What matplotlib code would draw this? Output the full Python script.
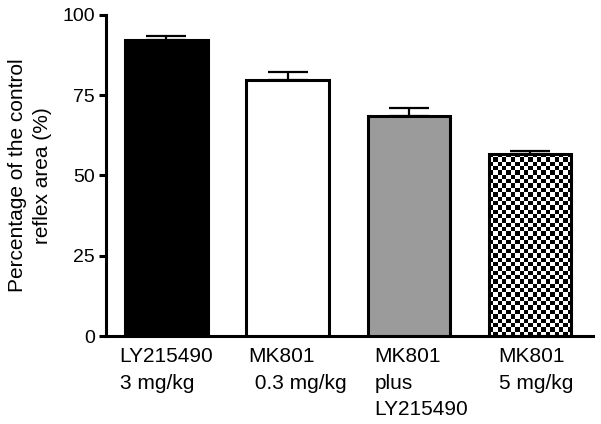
import matplotlib.pyplot as plt
import matplotlib.transforms as mtransforms
import numpy as np

plt.rcParams['font.family'] = ['Liberation Sans', 'DejaVu Sans']

groups = ["LY215490\n3 mg/kg", "MK801\n 0.3 mg/kg", "MK801\nplus\nLY215490", "MK801\n5 mg/kg"]
means = [92.2, 79.7, 68.5, 56.7]
sems = [1.3, 2.5, 2.5, 1.0]
fills = ["black", "white", "#9b9b9b", "white"]
yticks = [0, 25, 50, 75, 100]

fig = plt.figure(figsize=(6.01, 4.24), dpi=100)
ax = fig.add_axes([0.176, 0.2075, 0.811, 0.7575])

x = np.arange(len(groups))
width = 0.68
bars = ax.bar(x, means, width=width, color=fills, edgecolor="black",
              linewidth=2.2, zorder=3)
ax.errorbar(x, means, yerr=[np.zeros(len(sems)), sems], fmt="none",
            ecolor="black", elinewidth=1.6, capsize=14.5, capthick=1.6, zorder=2)

# checkerboard fill for the last bar
b = bars[3]
nx, ny = 19, 42
checker = (np.add.outer(np.arange(ny), np.arange(nx)) % 2).astype(float)
im = ax.imshow(checker, cmap="gray", interpolation="nearest", aspect="auto",
               extent=(b.get_x(), b.get_x() + b.get_width(), 0, b.get_height()),
               zorder=2.5)
im.set_clip_path(b)
b.set_facecolor("none")

ax.set_xlim(-0.5, 3.52)
ax.set_ylim(0, 100)
ax.set_yticks(yticks)
ax.set_xticks(x)
ax.set_xticklabels(groups, multialignment="left", linespacing=1.5)
ax.tick_params(axis="x", length=0, pad=8, labelsize=15)
ax.tick_params(axis="y", length=5, width=2.2, labelsize=14, pad=3)

# nudge labels a little to the right like the original
for lbl, dx in zip(ax.get_xticklabels(), [0, 7, 9, 4]):
    lbl.set_transform(lbl.get_transform() +
                      mtransforms.ScaledTranslation(dx / 72, 0, fig.dpi_scale_trans))

for s in ["top", "right"]:
    ax.spines[s].set_visible(False)
for s in ["left", "bottom"]:
    ax.spines[s].set_linewidth(2.2)

ax.set_ylabel("Percentage of the control\nreflex area (%)", fontsize=15,
              labelpad=7, linespacing=1.45)

fig.savefig("out.png", dpi=100)
